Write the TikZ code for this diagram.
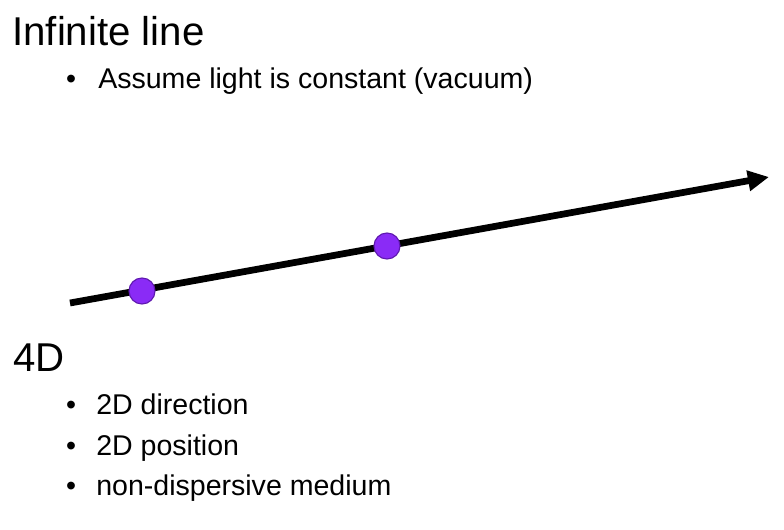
\documentclass[tikz,border=0pt]{standalone}
\usepackage{fontspec}
\setmainfont{Liberation Sans}
\usetikzlibrary{arrows.meta}
\definecolor{dotfill}{RGB}{138,43,246}
\definecolor{dotline}{RGB}{95,25,175}
\tikzset{
    heading/.style={anchor=base west, inner sep=0pt, font=\fontsize{28.6}{34}\selectfont},
    item/.style={anchor=base west, inner sep=0pt, font=\fontsize{20.3}{24}\selectfont},
    bullet/.style={anchor=base, inner sep=0pt, font=\fontsize{20.3}{24}\selectfont},
    event/.style={circle, fill=dotfill, draw=dotline, line width=0.8pt, minimum size=18.5pt, inner sep=0pt}
}
\begin{document}
\begin{tikzpicture}[x=0.025cm, y=-0.025cm]
    \useasboundingbox (0,0) rectangle (784,529);

    % Headings
    \node[heading] (title) at (12,45) {Infinite line};
    \node[heading] (dims) at (13,371) {4D};

    % Bullet points
    \node[bullet] (b0) at (71,88) {•};
    \node[item] (t0) at (98,88) {Assume light is constant (vacuum)};
    \foreach \i/\y/\text in {
        1/414/{2D direction},
        2/455/{2D position},
        3/495/{non-dispersive medium}
    } {
        \node[bullet] (b\i) at (71,\y) {•};
        \node[item] (t\i) at (96,\y) {\text};
    }

    % Light ray
    \coordinate (start) at (70,303);
    \coordinate (tip) at (769,177);
    \draw[line width=4.8pt, -{Triangle[length=15pt,width=14pt]}] (start) -- (tip);

    % Points on the ray
    \node[event] (p1) at (142,291) {};
    \node[event] (p2) at (387,246) {};
\end{tikzpicture}
\end{document}
